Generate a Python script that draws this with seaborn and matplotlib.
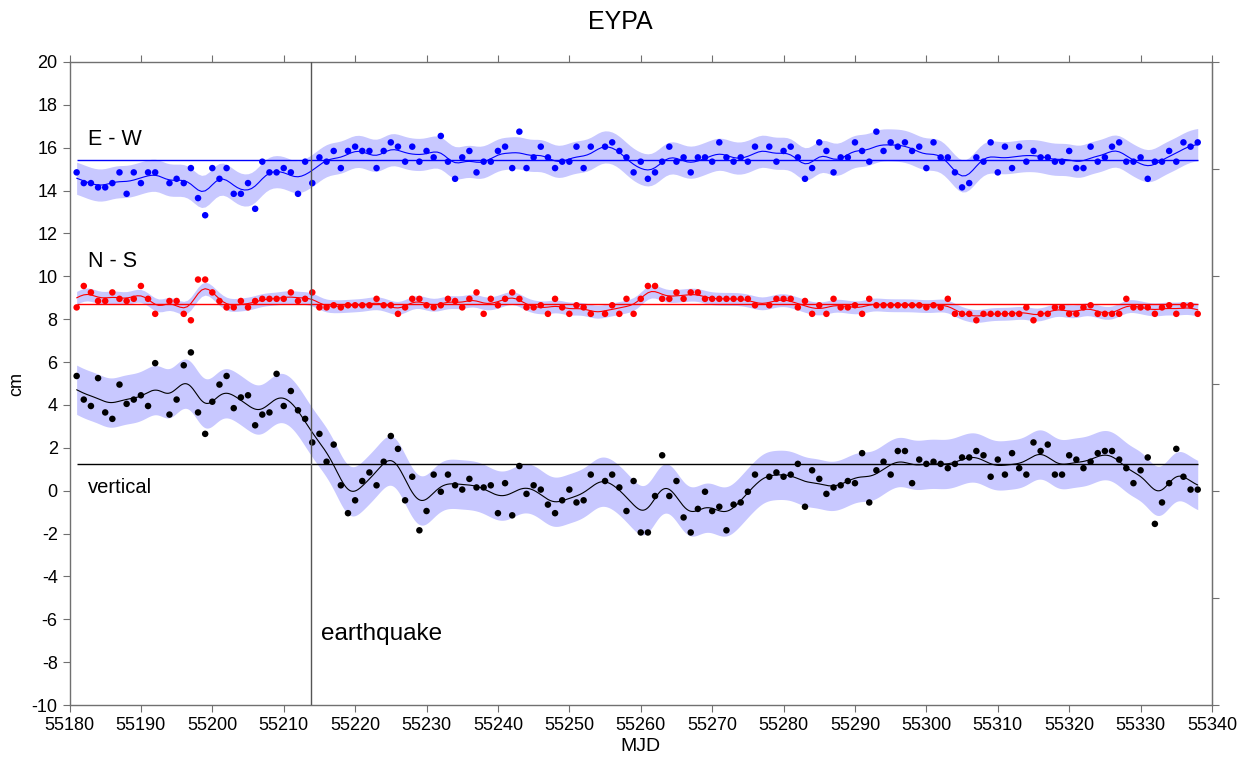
import numpy as np
import matplotlib
matplotlib.use("Agg")
import matplotlib.pyplot as plt
import seaborn as sns

# daily GPS solutions, a few days without data
missing_days = [55193, 55254, 55277]
mjd = [d for d in range(55181, 55339) if d not in missing_days]

ew = [14.85, 14.35, 14.35, 14.15, 14.15, 14.35, 14.85, 13.85, 14.85, 14.35, 14.85, 14.85,
      14.35, 14.55, 14.35, 15.05, 13.65, 12.85, 15.05, 14.55, 15.05, 13.85,
      13.85, 14.35, 13.15, 15.35, 14.85, 14.85, 15.05, 14.85, 13.85, 15.35,
      14.35, 15.55, 15.35, 15.85, 15.05, 15.85, 16.05, 15.85, 15.85, 15.05,
      15.85, 16.25, 16.05, 15.35, 16.05, 15.35, 15.85, 15.55, 16.55, 15.35,
      14.55, 15.55, 15.85, 14.85, 15.35, 15.35, 15.85, 16.05, 15.05, 16.75,
      15.05, 15.55, 16.05, 15.55, 15.05, 15.35, 15.35, 16.05, 15.05, 16.05,
      16.05, 16.25, 15.85, 15.55, 14.85, 15.35, 14.55, 14.85, 15.35, 16.05,
      15.35, 15.55, 14.85, 15.55, 15.55, 15.35, 16.25, 15.55, 15.35, 15.55,
      15.35, 16.05,
      16.05, 15.35, 15.85, 16.05, 15.55, 14.55, 15.05, 16.25, 15.85, 14.85,
      15.55, 15.55, 16.25, 15.85, 15.35, 16.75, 15.85, 16.25, 16.05, 16.25,
      15.85, 16.05, 15.05, 16.25, 15.55, 15.55, 14.85, 14.15, 14.35, 15.55,
      15.35, 16.25, 14.85, 16.05, 15.05, 16.05, 15.35, 15.85, 15.55, 15.55,
      15.35, 15.35, 15.85, 15.05, 15.05, 16.05, 15.35, 15.55, 16.05, 16.25,
      15.35, 15.35, 15.55, 14.55, 15.35, 15.35, 15.85, 15.35, 16.25, 16.05, 16.25]

ns = [8.55, 9.55, 9.25, 8.85, 8.85, 9.25, 8.95, 8.85, 8.95, 9.55, 8.95, 8.25,
      8.85, 8.85, 8.25, 7.95, 9.85, 9.85, 9.25, 8.85, 8.55, 8.55,
      8.85, 8.55, 8.85, 8.95, 8.95, 8.95, 8.95, 9.25, 8.85, 8.95,
      9.25, 8.55, 8.55, 8.65, 8.55, 8.65, 8.65, 8.65, 8.65, 8.95,
      8.65, 8.65, 8.25, 8.55, 8.95, 8.95, 8.65, 8.55, 8.65, 8.95,
      8.85, 8.55, 8.95, 9.25, 8.25, 8.95, 8.65, 8.95, 9.25, 8.95,
      8.55, 8.55, 8.65, 8.25, 8.95, 8.55, 8.25, 8.65, 8.55, 8.25,
      8.25, 8.65, 8.25, 8.95, 8.25, 8.95, 9.55, 9.55, 8.95, 8.95,
      9.25, 8.95, 9.25, 9.25, 8.95, 8.95, 8.95, 8.95, 8.95, 8.95,
      8.95, 8.65,
      8.65, 8.95, 8.95, 8.95, 8.55, 8.85, 8.25, 8.65, 8.25, 8.95,
      8.55, 8.55, 8.65, 8.25, 8.95, 8.65, 8.65, 8.65, 8.65, 8.65,
      8.65, 8.65, 8.55, 8.65, 8.55, 8.95, 8.25, 8.25, 8.25, 7.95,
      8.25, 8.25, 8.25, 8.25, 8.25, 8.25, 8.55, 7.95, 8.25, 8.25,
      8.55, 8.55, 8.25, 8.25, 8.55, 8.65, 8.25, 8.25, 8.25, 8.25,
      8.95, 8.55, 8.55, 8.55, 8.25, 8.55, 8.65, 8.25, 8.65, 8.65, 8.25]

up = [5.35, 4.25, 3.95, 5.25, 3.65, 3.35, 4.95, 4.05, 4.25, 4.45, 3.95, 5.95,
      3.55, 4.25, 5.85, 6.45, 3.65, 2.65, 4.15, 4.95, 5.35, 3.85,
      4.35, 4.45, 3.05, 3.55, 3.65, 5.45, 3.95, 4.65, 3.75, 3.35,
      2.25, 2.65, 1.35, 2.15, 0.25, -1.05, -0.45, 0.45, 0.85, 0.25,
      1.35, 2.55, 1.95, -0.45, 0.65, -1.85, -0.95, 0.75, -0.05, 0.75,
      0.25, 0.05, 0.55, 0.15, 0.15, 0.25, -1.05, 0.35, -1.15, 1.15,
      -0.15, 0.25, 0.05, -0.65, -1.05, -0.45, 0.05, -0.55, -0.45, 0.75,
      0.45, 0.75, 0.15, -0.95, 0.45, -1.95, -1.95, -0.25, 1.65, -0.25,
      0.45, -1.25, -1.95, -0.85, -0.05, -0.95, -0.75, -1.85, -0.65, -0.55,
      -0.05, 0.75,
      0.65, 0.85, 0.65, 0.75, 1.25, -0.75, 0.95, 0.55, -0.15, 0.15,
      0.25, 0.45, 0.35, 1.75, -0.55, 0.95, 1.35, 0.75, 1.85, 1.85,
      0.35, 1.45, 1.25, 1.35, 1.25, 1.05, 1.25, 1.55, 1.55, 1.85,
      1.65, 0.65, 1.45, 0.75, 1.75, 1.05, 0.75, 2.25, 1.85, 2.15,
      0.75, 0.75, 1.65, 1.45, 1.05, 1.35, 1.75, 1.85, 1.85, 1.45,
      1.05, 0.35, 0.95, 1.55, -1.55, -0.55, 0.35, 1.95, 0.65, 0.05, 0.05]

levels = [15.45, 8.7, 1.25]
colors = ["#0000ff", "#ff0000", "#000000"]
quake_mjd = 55213.8


def smooth(x, y, grid, sigma):
    x = np.asarray(x, float)
    y = np.asarray(y, float)
    w = np.exp(-0.5 * ((grid[:, None] - x[None, :]) / sigma) ** 2)
    return (w * y).sum(1) / w.sum(1)


sns.set_style("white")
plt.rcParams["font.family"] = ["Liberation Sans", "DejaVu Sans"]
plt.rcParams["text.color"] = "black"
plt.rcParams["axes.labelcolor"] = "black"
plt.rcParams["xtick.color"] = "black"
plt.rcParams["ytick.color"] = "black"
plt.rcParams["axes.unicode_minus"] = False

fig = plt.figure(figsize=(12.4, 7.62), dpi=100)
ax = fig.add_axes([69.5 / 1240, 1 - 705 / 762, (1212 - 69.5) / 1240, 643 / 762])

# (series, band half width, smoothing sigma, grid step)
setup = [(ew, 0.75, 1.3, 0.5), (ns, 0.3, 1.2, 0.5), (up, 1.15, 1.5, 0.1)]
for (vals, band, sig, step), lev, col in zip(setup, levels, colors):
    grid = np.arange(mjd[0], mjd[-1] + step / 2, step)
    s = smooth(mjd, vals, grid, sig)
    ax.fill_between(grid, s - band, s + band, color="#c8c8ff", lw=0, zorder=1)
    ax.hlines(lev, mjd[0], mjd[-1], color=col, lw=1, zorder=2)
    sns.lineplot(x=grid, y=s, color=col, lw=0.8, estimator=None, ax=ax, zorder=3)
    sns.scatterplot(x=mjd, y=vals, color=col, s=22, edgecolor="none", ax=ax, zorder=4)

ax.axvline(quake_mjd, color="#555555", lw=1, zorder=5)

ax.text(55182.6, 16.4, "E - W", fontsize=15.5, va="center")
ax.text(55182.6, 10.7, "N - S", fontsize=15.5, va="center")
ax.text(55182.6, 0.15, "vertical", fontsize=14.5, va="center")
ax.text(55215.2, -6.7, "earthquake", fontsize=17.5, va="center")

ax.set_xlim(55180, 55340)
ax.set_ylim(-10, 20)
ax.set_xticks(range(55180, 55341, 10))
ax.set_yticks(range(-10, 21, 2))
ax.tick_params(direction="out", length=5, color="#707070", labelsize=13,
               top=True, labeltop=False, left=True, bottom=True)
for sp in ax.spines.values():
    sp.set_color("#707070")
    sp.set_linewidth(1)

sec = ax.secondary_yaxis("right")
sec.set_yticks(range(-10, 21, 5))
sec.set_yticklabels([])
sec.tick_params(direction="out", length=5, color="#707070")
sec.spines["right"].set_color("#707070")

ax.set_xlabel("MJD", fontsize=14)
ax.set_ylabel("cm", fontsize=13)
ax.xaxis.set_label_coords(0.5, -0.051)
ax.yaxis.set_label_coords(-0.039, 0.5)
fig.text(0.5, 1 - 22 / 762, "EYPA", fontsize=18, ha="center", va="center")

fig.savefig("out.png", dpi=100)
